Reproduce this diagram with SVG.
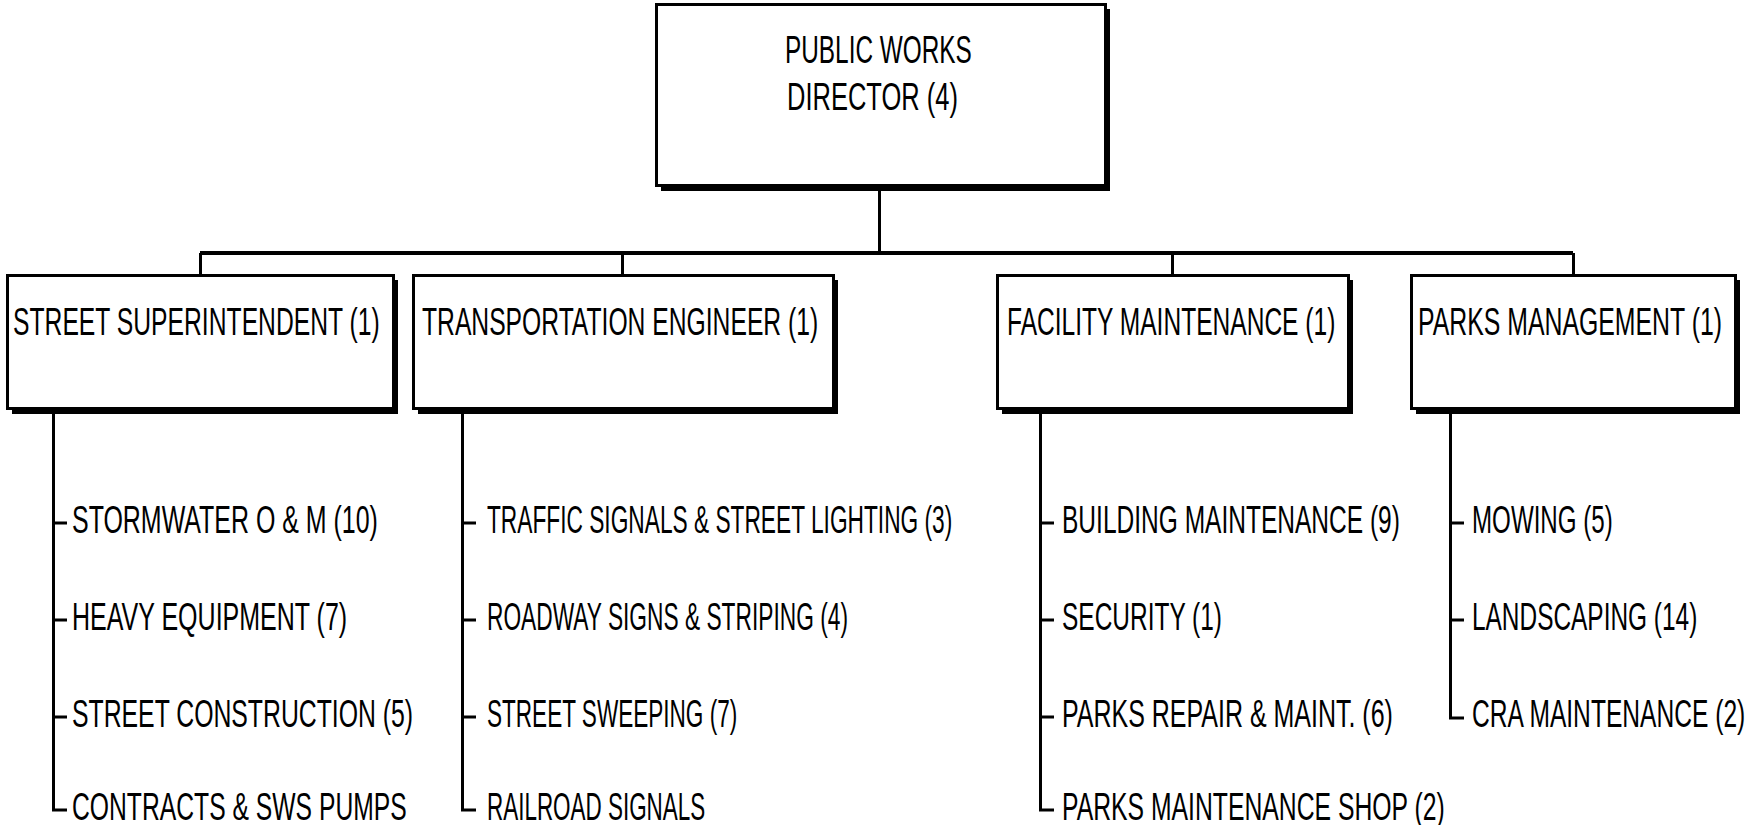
<svg xmlns="http://www.w3.org/2000/svg" width="1746" height="825" viewBox="0 0 1746 825">
<style>
.box{fill:#fff;stroke:#000;stroke-width:3}
.sh{fill:#000}
.ln{fill:none;stroke:#000;stroke-width:3}
.hl{fill:none;stroke:#000;stroke-width:4}
text{font-family:"Liberation Sans",Arial,sans-serif;font-size:39px;fill:#000}
</style>
<rect width="1746" height="825" fill="#fff"/>
<g id="connectors">
<path class="ln" d="M879.5 186 V253"/>
<path class="hl" d="M200 253 H1573"/>
<path class="ln" d="M200.5 253 V275 M622.5 253 V275 M1172.5 253 V275 M1573.5 253 V275"/>
<path class="ln" d="M53.5 410 V810 H67 M53.5 523 H67 M53.5 620 H67 M53.5 717 H67"/>
<path class="ln" d="M462.5 410 V810 H476 M462.5 523 H476 M462.5 620 H476 M462.5 717 H476"/>
<path class="ln" d="M1040.5 410 V810 H1054 M1040.5 523 H1054 M1040.5 620 H1054 M1040.5 717 H1054"/>
<path class="ln" d="M1450.5 410 V718 H1464 M1450.5 523 H1464 M1450.5 620 H1464"/>
</g>
<g id="director">
<rect class="sh" x="661" y="9" width="449" height="182"/>
<rect class="box" x="656.5" y="4.5" width="449" height="181"/>
<text transform="translate(785 63) scale(0.64 1)" textLength="292" lengthAdjust="spacingAndGlyphs">PUBLIC WORKS</text>
<text transform="translate(787 110) scale(0.64 1)" textLength="267" lengthAdjust="spacingAndGlyphs">DIRECTOR (4)</text>
</g>
<g id="street">
<rect class="sh" x="12" y="280" width="386" height="134"/>
<rect class="box" x="7.5" y="275.5" width="386" height="133"/>
<text transform="translate(13 335) scale(0.64 1)" textLength="573" lengthAdjust="spacingAndGlyphs">STREET SUPERINTENDENT (1)</text>
</g>
<g id="transport">
<rect class="sh" x="418" y="280" width="420" height="134"/>
<rect class="box" x="413.5" y="275.5" width="420" height="133"/>
<text transform="translate(422 335) scale(0.64 1)" textLength="619" lengthAdjust="spacingAndGlyphs">TRANSPORTATION ENGINEER (1)</text>
</g>
<g id="facility">
<rect class="sh" x="1002" y="280" width="351" height="134"/>
<rect class="box" x="997.5" y="275.5" width="351" height="133"/>
<text transform="translate(1007 335) scale(0.64 1)" textLength="513" lengthAdjust="spacingAndGlyphs">FACILITY MAINTENANCE (1)</text>
</g>
<g id="parks">
<rect class="sh" x="1416" y="280" width="324" height="134"/>
<rect class="box" x="1411.5" y="275.5" width="324" height="133"/>
<text transform="translate(1418 335) scale(0.64 1)" textLength="475" lengthAdjust="spacingAndGlyphs">PARKS MANAGEMENT (1)</text>
</g>
<g id="street-items">
<text transform="translate(72 533) scale(0.64 1)" textLength="478" lengthAdjust="spacingAndGlyphs">STORMWATER O &amp; M (10)</text>
<text transform="translate(72 630) scale(0.64 1)" textLength="430" lengthAdjust="spacingAndGlyphs">HEAVY EQUIPMENT (7)</text>
<text transform="translate(72 727) scale(0.64 1)" textLength="533" lengthAdjust="spacingAndGlyphs">STREET CONSTRUCTION (5)</text>
<text transform="translate(72 820) scale(0.64 1)" textLength="523" lengthAdjust="spacingAndGlyphs">CONTRACTS &amp; SWS PUMPS</text>
</g>
<g id="transport-items">
<text transform="translate(487 533) scale(0.64 1)" textLength="727" lengthAdjust="spacingAndGlyphs">TRAFFIC SIGNALS &amp; STREET LIGHTING (3)</text>
<text transform="translate(487 630) scale(0.64 1)" textLength="564" lengthAdjust="spacingAndGlyphs">ROADWAY SIGNS &amp; STRIPING (4)</text>
<text transform="translate(487 727) scale(0.64 1)" textLength="391" lengthAdjust="spacingAndGlyphs">STREET SWEEPING (7)</text>
<text transform="translate(487 820) scale(0.64 1)" textLength="341" lengthAdjust="spacingAndGlyphs">RAILROAD SIGNALS</text>
</g>
<g id="facility-items">
<text transform="translate(1062 533) scale(0.64 1)" textLength="528" lengthAdjust="spacingAndGlyphs">BUILDING MAINTENANCE (9)</text>
<text transform="translate(1062 630) scale(0.64 1)" textLength="250" lengthAdjust="spacingAndGlyphs">SECURITY (1)</text>
<text transform="translate(1062 727) scale(0.64 1)" textLength="517" lengthAdjust="spacingAndGlyphs">PARKS REPAIR &amp; MAINT. (6)</text>
<text transform="translate(1062 820) scale(0.64 1)" textLength="598" lengthAdjust="spacingAndGlyphs">PARKS MAINTENANCE SHOP (2)</text>
</g>
<g id="parks-items">
<text transform="translate(1472 533) scale(0.64 1)" textLength="220" lengthAdjust="spacingAndGlyphs">MOWING (5)</text>
<text transform="translate(1472 630) scale(0.64 1)" textLength="352" lengthAdjust="spacingAndGlyphs">LANDSCAPING (14)</text>
<text transform="translate(1472 727) scale(0.64 1)" textLength="427" lengthAdjust="spacingAndGlyphs">CRA MAINTENANCE (2)</text>
</g>
</svg>
